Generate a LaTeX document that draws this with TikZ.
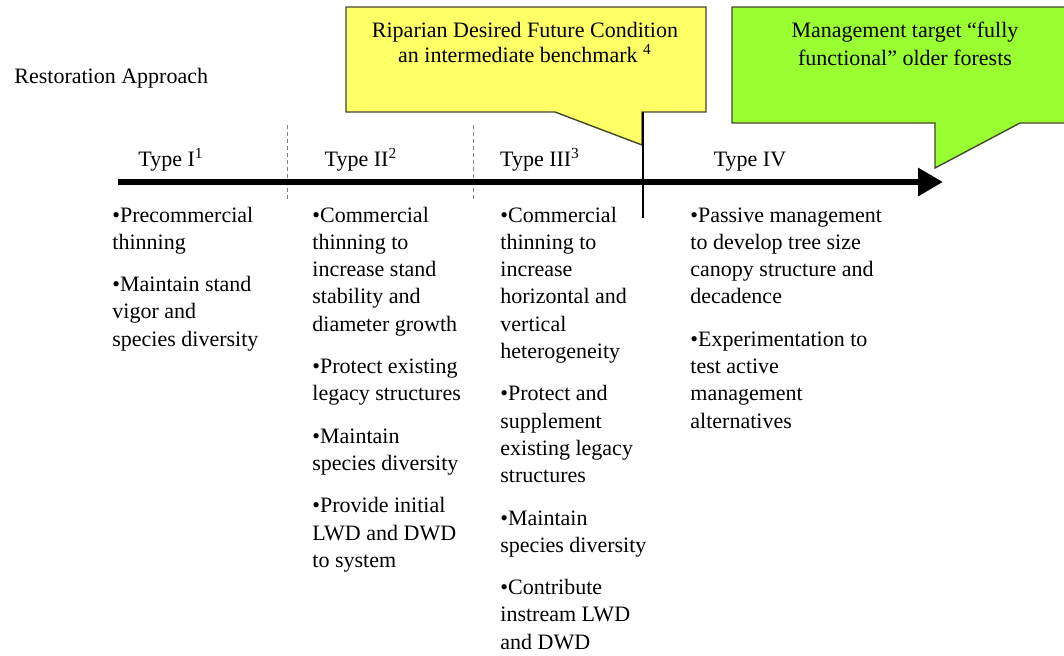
\documentclass[tikz,border=0pt]{standalone}
\usepackage{fontspec}
\setmainfont{Liberation Serif}
\usetikzlibrary{arrows.meta}

\definecolor{benchyellow}{RGB}{255,255,102}
\definecolor{targetgreen}{RGB}{153,255,51}
\definecolor{calloutedge}{RGB}{70,70,45}

\tikzset{
  callout/.style={draw=calloutedge,line width=0.7pt},
  lbl/.style={inner sep=0pt,font=\fontsize{11}{13.65}\selectfont},
  coltext/.style={lbl,anchor=base west},
  divider/.style={gray,dashed,line width=0.45pt,dash pattern=on 2pt off 1.5pt}
}
% bullet column, baseline on its first line
\newcommand{\bulletcol}[1]{\begin{tabular}[t]{@{}l@{}}#1\end{tabular}}

\begin{document}
\begin{tikzpicture}[x=0.5pt,y=-0.5pt]
	\useasboundingbox (0,0) rectangle (1064,655);
	\clip (0,0) rectangle (1064,655);
	\fill[white] (0,0) rectangle (1064,655);

	\draw[callout,fill=benchyellow] (346,7) -- (706,7) -- (706,112) -- (642,112) -- (642,145) -- (555,112) -- (346,112) -- cycle;
	\node[lbl,align=center,font=\fontsize{11}{12.5}\selectfont] (bench) at (525,42) {Riparian Desired Future Condition\\an intermediate benchmark \textsuperscript{4}};

	\draw[callout,fill=targetgreen] (732,7) -- (1080,7) -- (1080,123) -- (1020,123) -- (935,168) -- (935,123) -- (732,123) -- cycle;
	\node[lbl,align=center,font=\fontsize{11}{14}\selectfont] (target) at (905,44) {Management target “fully\\functional” older forests};

	\node[lbl,anchor=west] (approach) at (14,78) {Restoration Approach};

	\draw[divider] (287,125) -- (287,202);
	\draw[divider] (473,125) -- (473,202);

	\node[lbl,anchor=base] (type1) at (171,166) {Type I\textsuperscript{1}};
	\node[lbl,anchor=base] (type2) at (361,166) {Type II\textsuperscript{2}};
	\node[lbl,anchor=base] (type3) at (540,166) {Type III\textsuperscript{3}};
	\node[lbl,anchor=base] (type4) at (750,166) {Type IV};

	\coordinate (tl-start) at (118,182);
	\coordinate (tl-end) at (943,182);
	\draw[line width=3.3pt,-{Triangle[length=12.5pt,width=13.5pt]}] (tl-start) -- (tl-end);

	\coordinate (bench-top) at (643,112);
	\coordinate (bench-bot) at (643,218);
	\draw[line width=1.4pt] (bench-top) -- (bench-bot);

	\node[coltext] (col1) at (112,222) {\bulletcol{•Precommercial\\thinning\\[7.5pt]•Maintain stand\\vigor and\\species diversity}};
	\node[coltext] (col2) at (312,222) {\bulletcol{•Commercial\\thinning to\\increase stand\\stability and\\diameter growth\\[7.5pt]•Protect existing\\legacy structures\\[7.5pt]•Maintain\\species diversity\\[7.5pt]•Provide initial\\LWD and DWD\\to system}};
	\node[coltext] (col3) at (500,222) {\bulletcol{•Commercial\\thinning to\\increase\\horizontal and\\vertical\\heterogeneity\\[7.5pt]•Protect and\\supplement\\existing legacy\\structures\\[7.5pt]•Maintain\\species diversity\\[7.5pt]•Contribute\\instream LWD\\and DWD}};
	\node[coltext] (col4) at (690,222) {\bulletcol{•Passive management\\to develop tree size\\canopy structure and\\decadence\\[7.5pt]•Experimentation to\\test active\\management\\alternatives}};
\end{tikzpicture}
\end{document}
